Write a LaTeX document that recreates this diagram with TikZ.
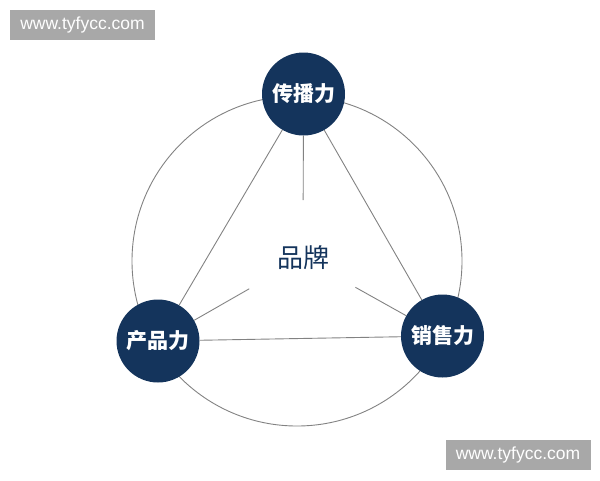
\documentclass[tikz,border=0pt]{standalone}
\usepackage{fontspec}
\setmainfont{Liberation Sans}
\newfontfamily\cjk{Noto Sans CJK SC}
\usepackage{xcolor}
\usetikzlibrary{positioning,shapes,calc}
\definecolor{navy}{RGB}{20,52,92}
\definecolor{wmgray}{RGB}{168,168,168}
\definecolor{linegray}{RGB}{130,130,130}

\begin{document}
\begin{tikzpicture}[x=1pt, y=-1pt]
    % Define styles
    \tikzset{force/.style={circle, fill=navy, text=white, minimum size=83pt, inner sep=0pt, font=\cjk\bfseries\fontsize{21}{21}\selectfont}}
    \tikzset{link/.style={draw=linegray, line width=0.9pt}}
    \tikzset{watermark/.style={fill=wmgray, text=white, minimum width=145pt, minimum height=30pt, inner sep=0pt, font=\fontsize{17.5}{17.5}\selectfont}}

    \useasboundingbox (0,0) rectangle (600,480);

    % Draw outer ring
    \draw[link] (297,261) circle (165);

    % Draw the three forces
    \node[force] (spread) at (303.5,94) {传播力};
    \node[force] (product) at (158,341) {产品力};
    \node[force] (sales) at (442.5,336) {销售力};

    % Draw brand in the middle
    \node[text=navy, font=\cjk\fontsize{26}{26}\selectfont] (brand) at (303,258) {品牌};

    % Connect forces
    \draw[link] (spread) -- (product);
    \draw[link] (spread) -- (sales);
    \draw[link] (product) -- (sales);

    % Spokes towards the brand
    \coordinate (spreadend) at ($(brand.center)!58pt!(spread.center)$);
    \coordinate (productend) at ($(brand.center)!62pt!(product.center)$);
    \coordinate (salesend) at ($(brand.center)!60pt!(sales.center)$);
    \draw[link] (spread) -- (spreadend);
    \draw[link] (product) -- (productend);
    \draw[link] (sales) -- (salesend);

    % Watermarks
    \node[watermark] (wmtop) at (82.5,25) {www.tyfycc.com};
    \node[watermark] (wmbottom) at (518,455) {www.tyfycc.com};
\end{tikzpicture}
\end{document}
